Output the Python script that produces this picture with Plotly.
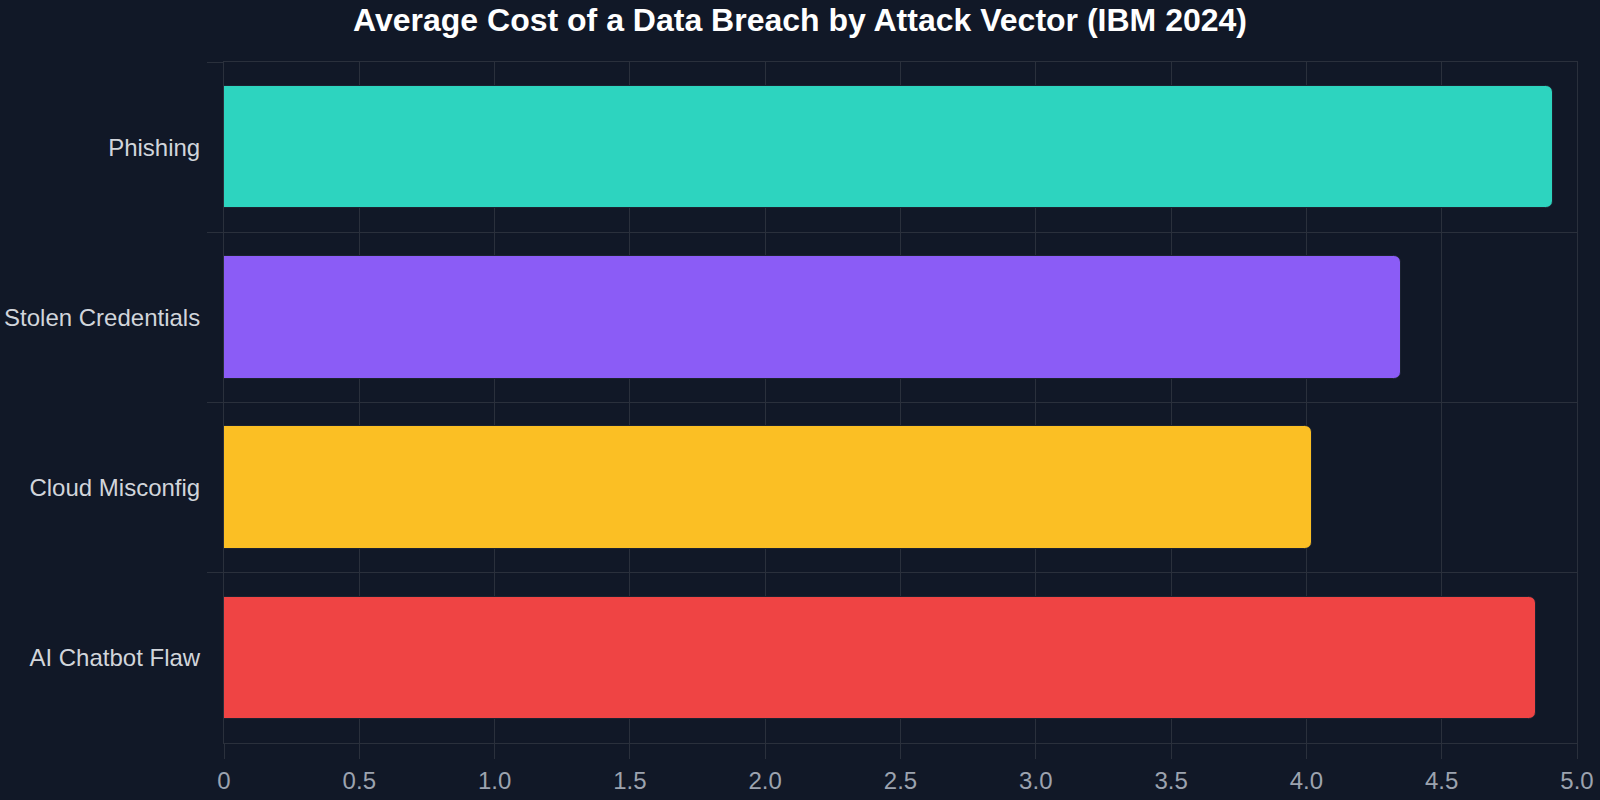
import plotly.graph_objects as go

categories = ["Phishing", "Stolen Credentials", "Cloud Misconfig", "AI Chatbot Flaw"]
values = [4.91, 4.35, 4.02, 4.85]
colors = ["#2dd4bf", "#8b5cf6", "#fbbf24", "#ef4444"]
x_tickvals = [0, 0.5, 1.0, 1.5, 2.0, 2.5, 3.0, 3.5, 4.0, 4.5, 5.0]
x_ticktext = ["0", "0.5", "1.0", "1.5", "2.0", "2.5", "3.0", "3.5", "4.0", "4.5", "5.0"]

BG = "#111827"
GRID = "#2a303c"
FONT = "Liberation Sans, Arial, sans-serif"

fig = go.Figure(go.Bar(
    x=values,
    y=categories,
    orientation="h",
    width=0.72,
    marker=dict(color=colors, line=dict(color="#1b2230", width=1), cornerradius=7),
    hoverinfo="x+y",
))

fig.update_layout(
    width=1600, height=800,
    paper_bgcolor=BG, plot_bgcolor=BG,
    margin=dict(l=224, r=23, t=62, b=57),
    title=dict(
        text="<b>Average Cost of a Data Breach by Attack Vector (IBM 2024)</b>",
        x=0.5, xanchor="center", y=1 - 20 / 800, yanchor="middle",
        font=dict(family=FONT, size=32, color="#ffffff"),
    ),
    showlegend=False,
    bargap=0,
)

fig.update_xaxes(
    range=[0, 5],
    tickvals=x_tickvals, ticktext=x_ticktext,
    showgrid=True, gridcolor=GRID, gridwidth=1,
    zeroline=False,
    ticks="outside", ticklen=15, tickcolor=GRID, tickwidth=1,
    ticklabelstandoff=1,
    tickfont=dict(family=FONT, size=24, color="#9ca3af"),
    showline=True, mirror=True, linecolor=GRID, linewidth=1,
    automargin=False,
    fixedrange=True,
)

fig.update_yaxes(
    type="category",
    categoryorder="array", categoryarray=categories,
    range=[3.5, -0.5],
    tickson="boundaries",
    showgrid=True, gridcolor=GRID, gridwidth=1,
    ticks="outside", ticklen=16, tickcolor=GRID, tickwidth=1,
    ticklabelstandoff=18,
    tickfont=dict(family=FONT, size=24, color="#d1d5db"),
    showline=True, mirror=True, linecolor=GRID, linewidth=1,
    automargin=False,
    fixedrange=True,
)

fig.write_html("out.html")
